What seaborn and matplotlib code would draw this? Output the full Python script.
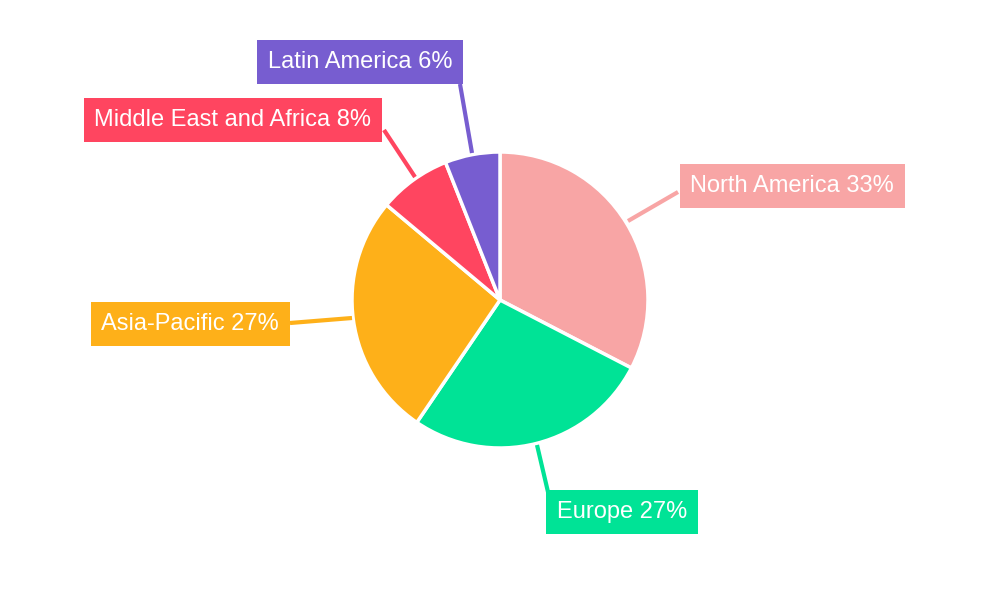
import matplotlib
matplotlib.use("Agg")
import matplotlib.pyplot as plt
import seaborn as sns

regions = ["North America", "Europe", "Asia-Pacific", "Middle East and Africa", "Latin America"]
shares = [32.6, 26.9, 26.6, 7.9, 6.0]
labels = ["North America 33%", "Europe 27%", "Asia-Pacific 27%", "Middle East and Africa 8%", "Latin America 6%"]
colors = ["#F8A5A5", "#00E396", "#FEB019", "#FF4560", "#775DD0"]

sns.set_theme(style="white")
plt.rcParams["font.family"] = ["Liberation Sans", "DejaVu Sans"]

fig = plt.figure(figsize=(10, 6), dpi=100)
ax = fig.add_axes([0, 0, 1, 1])
ax.set_xlim(0, 1000)
ax.set_ylim(0, 600)
ax.axis("off")

ax.pie(shares, colors=sns.color_palette(colors), startangle=90, counterclock=False,
       center=(500, 300), radius=148, frame=True,
       wedgeprops=dict(edgecolor="white", linewidth=2.5))
ax.set_xlim(0, 1000)
ax.set_ylim(0, 600)
ax.set_aspect("equal")
ax.axis("off")

# label box center, line start (on wedge), line end (at box) in pixel coords (y down)
label_pos = [(792, 186), (622, 512), (190, 324), (233, 120), (360, 62)]
line_from = [(628, 221), (537, 445), (352, 318), (415, 177), (472, 153)]
line_to = [(678, 192), (548, 492), (290, 323), (384, 130), (460, 84)]

for lab, col, p, a, b in zip(labels, colors, label_pos, line_from, line_to):
    ax.plot([a[0], b[0]], [600 - a[1], 600 - b[1]], color=col, lw=3, solid_capstyle="butt")
    ax.text(p[0], 600 - p[1], lab, ha="center", va="center", fontsize=17, color="white",
            bbox=dict(boxstyle="square,pad=0.45", facecolor=col, edgecolor="none"))

fig.savefig("out.png", dpi=100)
